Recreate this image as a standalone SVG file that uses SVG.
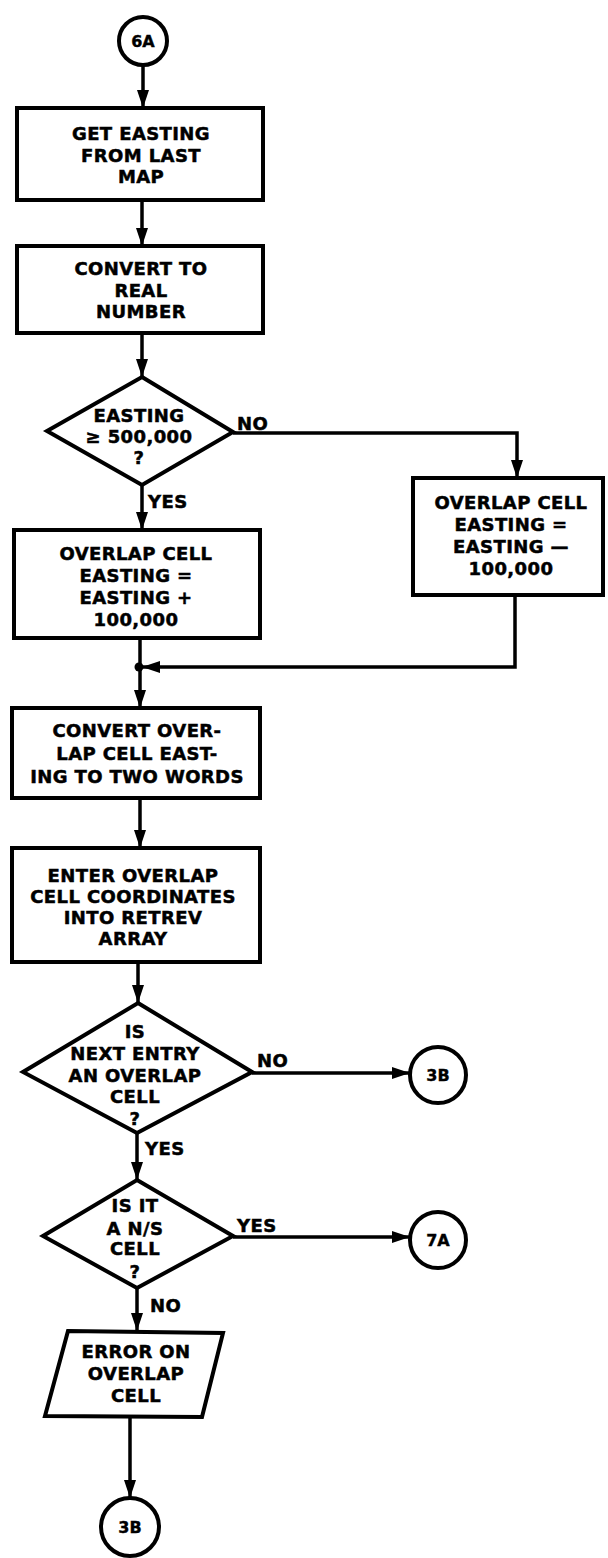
<svg xmlns="http://www.w3.org/2000/svg" width="608" height="1558" viewBox="0 0 608 1558">
<style>
  .shape { fill: #fff; stroke: #000; stroke-width: 4; stroke-linejoin: miter; }
  .conn { fill: none; stroke: #000; stroke-width: 3.5; }
  .t { font-family: "DejaVu Sans", "Liberation Sans", sans-serif; font-weight: bold; font-size: 18px; letter-spacing: 0.4px; fill: #000; stroke: #000; stroke-width: 0.5; text-anchor: middle; }
  .lbl { font-family: "DejaVu Sans", "Liberation Sans", sans-serif; font-weight: bold; font-size: 18px; letter-spacing: 0.4px; fill: #000; stroke: #000; stroke-width: 0.5; }
  .c { font-family: "DejaVu Sans", "Liberation Sans", sans-serif; font-weight: bold; font-size: 16px; fill: #000; stroke: #000; stroke-width: 0.4; text-anchor: middle; }
</style>
<defs>
  <marker id="arr" markerUnits="userSpaceOnUse" markerWidth="20" markerHeight="14" refX="18" refY="6" orient="auto">
    <path d="M0,0 L18,6 L0,12 z" fill="#000"/>
  </marker>
</defs>
<rect width="608" height="1558" fill="#fff"/>

<g id="connectors">
  <line class="conn" x1="143" y1="65" x2="143" y2="108" marker-end="url(#arr)"/>
  <line class="conn" x1="142" y1="200" x2="142" y2="246" marker-end="url(#arr)"/>
  <line class="conn" x1="142" y1="333" x2="142" y2="377" marker-end="url(#arr)"/>
  <line class="conn" x1="142" y1="485" x2="142" y2="530" marker-end="url(#arr)"/>
  <path class="conn" d="M233,433 H517 V478" marker-end="url(#arr)"/>
  <line class="conn" x1="140" y1="638" x2="140" y2="708" marker-end="url(#arr)"/>
  <path class="conn" d="M515,595 V667 H142" marker-end="url(#arr)"/>
  <circle cx="139" cy="667" r="4.5" fill="#000"/>
  <line class="conn" x1="140" y1="798" x2="140" y2="848" marker-end="url(#arr)"/>
  <line class="conn" x1="138" y1="962" x2="138" y2="1003" marker-end="url(#arr)"/>
  <line class="conn" x1="252" y1="1073" x2="410" y2="1073" marker-end="url(#arr)"/>
  <line class="conn" x1="137" y1="1133" x2="137" y2="1180" marker-end="url(#arr)"/>
  <line class="conn" x1="233" y1="1237" x2="410" y2="1237" marker-end="url(#arr)"/>
  <line class="conn" x1="137" y1="1288" x2="137" y2="1331" marker-end="url(#arr)"/>
  <line class="conn" x1="130" y1="1417" x2="130" y2="1498" marker-end="url(#arr)"/>
  <text class="lbl" x="237" y="430">NO</text>
  <text class="lbl" x="148" y="508">YES</text>
  <text class="lbl" x="257" y="1067">NO</text>
  <text class="lbl" x="145" y="1155">YES</text>
  <text class="lbl" x="237" y="1232">YES</text>
  <text class="lbl" x="150" y="1312">NO</text>
</g>

<g id="c6A">
  <circle class="shape" cx="143" cy="41" r="24"/>
  <text class="c" x="143" y="47">6A</text>
</g>

<g id="box1">
  <rect class="shape" x="17" y="108" width="246" height="92"/>
  <text class="t" x="141" y="140">GET EASTING</text>
  <text class="t" x="141" y="162">FROM LAST</text>
  <text class="t" x="141" y="183">MAP</text>
</g>

<g id="box2">
  <rect class="shape" x="17" y="246" width="246" height="87"/>
  <text class="t" x="141" y="275">CONVERT TO</text>
  <text class="t" x="141" y="297">REAL</text>
  <text class="t" x="141" y="318">NUMBER</text>
</g>

<g id="dec1">
  <polygon class="shape" points="142,377 233,432 142,485 47,431"/>
  <text class="t" x="139" y="422">EASTING</text>
  <text class="t" x="139" y="443">≥ 500,000</text>
  <text class="t" x="139" y="464">?</text>
</g>

<g id="box3">
  <rect class="shape" x="14" y="530" width="246" height="108"/>
  <text class="t" x="136" y="560">OVERLAP CELL</text>
  <text class="t" x="136" y="582">EASTING =</text>
  <text class="t" x="136" y="604">EASTING +</text>
  <text class="t" x="136" y="626">100,000</text>
</g>

<g id="box4">
  <rect class="shape" x="413" y="478" width="190" height="117"/>
  <text class="t" x="511" y="509">OVERLAP CELL</text>
  <text class="t" x="511" y="531">EASTING =</text>
  <text class="t" x="511" y="553">EASTING —</text>
  <text class="t" x="511" y="575">100,000</text>
</g>

<g id="box5">
  <rect class="shape" x="12" y="708" width="248" height="90"/>
  <text class="t" x="137" y="737">CONVERT OVER-</text>
  <text class="t" x="137" y="760">LAP CELL EAST-</text>
  <text class="t" x="137" y="783">ING TO TWO WORDS</text>
</g>

<g id="box6">
  <rect class="shape" x="12" y="848" width="248" height="114"/>
  <text class="t" x="133" y="882">ENTER OVERLAP</text>
  <text class="t" x="133" y="903">CELL COORDINATES</text>
  <text class="t" x="133" y="924">INTO RETREV</text>
  <text class="t" x="133" y="945">ARRAY</text>
</g>

<g id="dec2">
  <polygon class="shape" points="138,1003 252,1072 137,1133 23,1072"/>
  <text class="t" x="135" y="1038">IS</text>
  <text class="t" x="135" y="1060">NEXT ENTRY</text>
  <text class="t" x="135" y="1082">AN OVERLAP</text>
  <text class="t" x="135" y="1103">CELL</text>
  <text class="t" x="135" y="1125">?</text>
</g>

<g id="c3B_right">
  <circle class="shape" cx="438" cy="1075" r="28"/>
  <text class="c" x="438" y="1081">3B</text>
</g>

<g id="dec3">
  <polygon class="shape" points="137,1180 233,1236 137,1288 43,1236"/>
  <text class="t" x="135" y="1212">IS IT</text>
  <text class="t" x="135" y="1235">A N/S</text>
  <text class="t" x="135" y="1255">CELL</text>
  <text class="t" x="135" y="1278">?</text>
</g>

<g id="c7A">
  <circle class="shape" cx="438" cy="1240" r="28"/>
  <text class="c" x="438" y="1246">7A</text>
</g>

<g id="err">
  <polygon class="shape" points="68,1331 223,1333 202,1417 45,1416"/>
  <text class="t" x="136" y="1358">ERROR ON</text>
  <text class="t" x="136" y="1380">OVERLAP</text>
  <text class="t" x="136" y="1402">CELL</text>
</g>

<g id="c3B_bottom">
  <circle class="shape" cx="130" cy="1527" r="29"/>
  <text class="c" x="130" y="1533">3B</text>
</g>
</svg>
